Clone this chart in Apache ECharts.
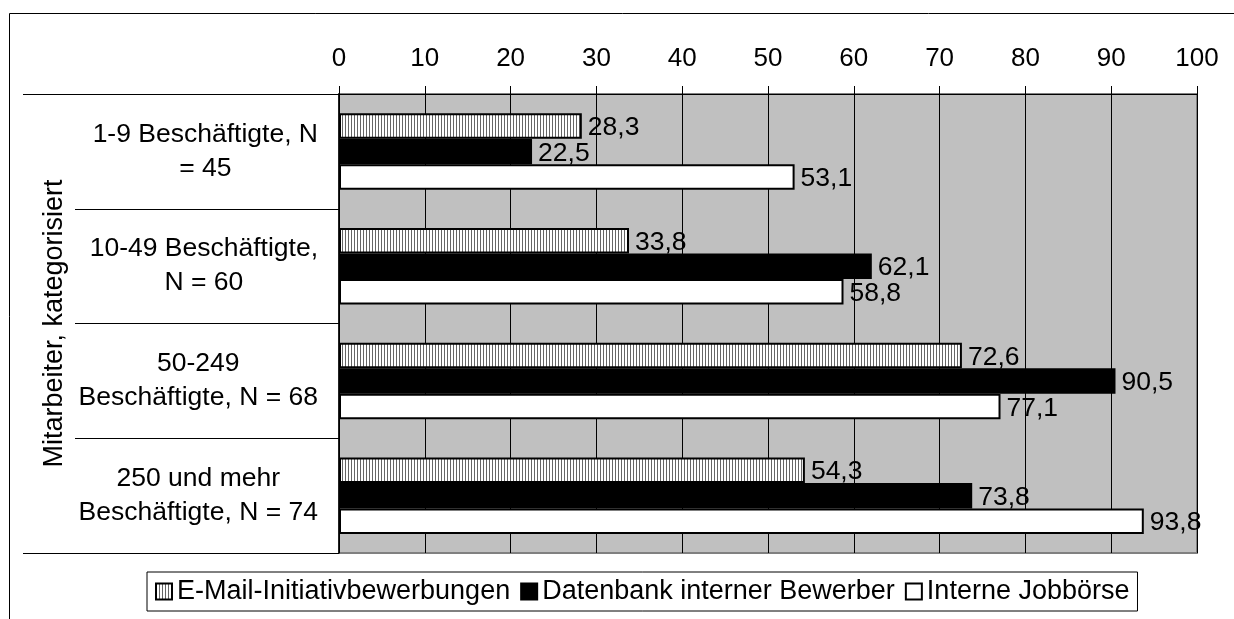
<!DOCTYPE html>
<html>
<head>
<meta charset="utf-8">
<script src="https://cdn.jsdelivr.net/npm/echarts@6/dist/echarts.min.js"></script>
<style>html,body{margin:0;padding:0;background:#fff;}#c{width:1234px;height:619px;}</style>
</head>
<body>
<div id="c"></div>
<script>
const categories = ['1-9 Beschäftigte, N\n= 45', '10-49 Beschäftigte,\nN = 60', '50-249\nBeschäftigte, N = 68', '250 und mehr\nBeschäftigte, N = 74'];
const seriesNames = ['E-Mail-Initiativbewerbungen', 'Datenbank interner Bewerber', 'Interne Jobbörse'];
const emailValues = [28.3, 33.8, 72.6, 54.3];
const datenbankValues = [22.5, 62.1, 90.5, 73.8];
const jobboerseValues = [53.1, 58.8, 77.1, 93.8];
const xTicks = [0, 100, 10];
const yAxisTitle = 'Mitarbeiter, kategorisiert';

const FONT = '"Liberation Sans", Arial, sans-serif';

// vertical hatch pattern
const pc = document.createElement('canvas');
pc.width = 3; pc.height = 4;
const pctx = pc.getContext('2d');
pctx.fillStyle = '#ffffff'; pctx.fillRect(0, 0, 3, 4);
pctx.fillStyle = '#666666'; pctx.fillRect(0, 0, 1, 4);
const hatch = { image: pc, repeat: 'repeat' };

const chart = echarts.init(document.getElementById('c'), null, { renderer: 'canvas' });
const labelFmt = p => String(p.value.toFixed(1)).replace('.', ',');
const lbl = { show: true, position: 'right', distance: 6, color: '#000', fontSize: 26.5, fontFamily: FONT, offset: [0, 2] };

chart.setOption({
  animation: false,
  backgroundColor: '#fff',
  textStyle: { fontFamily: FONT },
  graphic: [{
    type: 'rect', z: -10, silent: true,
    shape: { x: 9.5, y: 13.5, width: 2000, height: 2000 },
    style: { fill: 'none', stroke: '#000', lineWidth: 1 }
  }],
  grid: {
    left: 339, right: 37, top: 94, bottom: 66,
    show: true, backgroundColor: '#c0c0c0', borderColor: '#808080', borderWidth: 2
  },
  legend: {
    data: seriesNames,
    left: 147, top: 572,
    orient: 'horizontal',
    padding: [6, 8, 6, 8],
    itemWidth: 16, itemHeight: 16, itemGap: 10,
    borderColor: '#000', borderWidth: 1,
    icon: 'rect',
    textStyle: { fontSize: 27, color: '#000', fontFamily: FONT }
  },
  xAxis: {
    type: 'value', position: 'top',
    min: xTicks[0], max: xTicks[1], interval: xTicks[2],
    axisLine: { show: true, lineStyle: { color: '#000', width: 1 } },
    axisTick: { show: true, length: 8, lineStyle: { color: '#000' } },
    axisLabel: { fontSize: 26, color: '#000', margin: 22, fontFamily: FONT },
    splitLine: { show: true, lineStyle: { color: '#000', width: 1 } }
  },
  yAxis: [{
    type: 'category', data: categories, inverse: true, position: 'left',
    name: yAxisTitle, nameLocation: 'middle', nameGap: 268, nameRotate: 90,
    nameTextStyle: { fontSize: 27, color: '#000', fontFamily: FONT },
    axisLine: { show: true, lineStyle: { color: '#000', width: 1.5 } },
    axisTick: { show: true, length: 264, lineStyle: { color: '#000' } },
    axisLabel: {
      margin: 21, align: 'right', color: '#000',
      formatter: v => v.split('\n').map(s => '{a|' + s + '}').join('\n'),
      rich: { a: { align: 'center', fontSize: 26.5, lineHeight: 34, color: '#000', fontFamily: FONT } }
    },
    splitLine: { show: false }
  }, {
    type: 'category', data: categories, inverse: true, position: 'left',
    axisLine: { show: false },
    axisLabel: { show: false },
    axisTick: { show: true, length: 316, interval: (i) => i === 0, lineStyle: { color: '#000' } },
    splitLine: { show: false }
  }],
  series: [
    {
      name: seriesNames[0], type: 'bar', data: emailValues, yAxisIndex: 0,
      barWidth: 25.5, barGap: '0%',
      itemStyle: { color: hatch, borderColor: '#000', borderWidth: 2 },
      label: Object.assign({ formatter: labelFmt }, lbl)
    },
    {
      name: seriesNames[1], type: 'bar', data: datenbankValues, yAxisIndex: 0,
      barWidth: 25.5, barGap: '0%',
      itemStyle: { color: '#000', borderColor: '#000', borderWidth: 2 },
      label: Object.assign({ formatter: labelFmt }, lbl)
    },
    {
      name: seriesNames[2], type: 'bar', data: jobboerseValues, yAxisIndex: 0,
      barWidth: 25.5, barGap: '0%',
      itemStyle: { color: '#fff', borderColor: '#000', borderWidth: 2 },
      label: Object.assign({ formatter: labelFmt }, lbl)
    }
  ]
});
</script>
</body>
</html>
